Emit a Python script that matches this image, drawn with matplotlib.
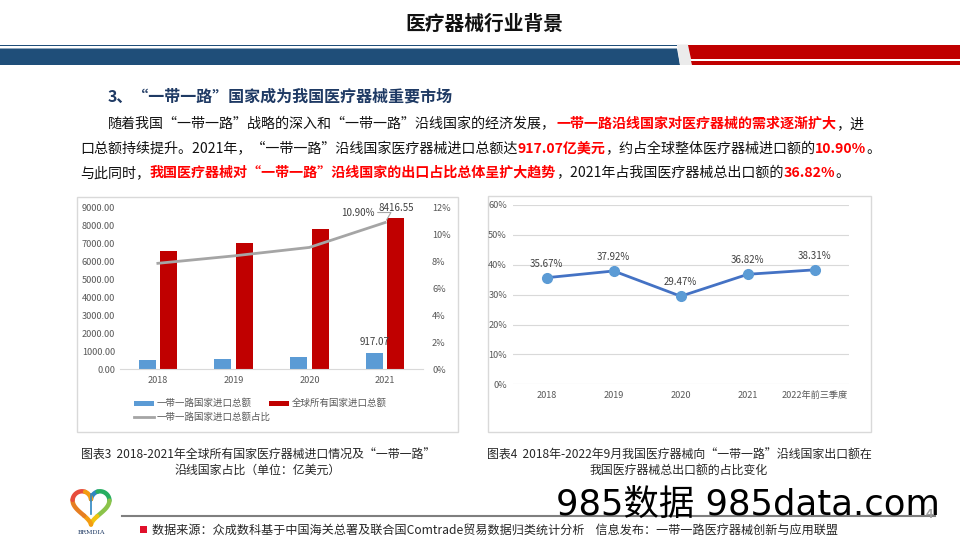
import numpy as np
import matplotlib
matplotlib.use("Agg")
import matplotlib.pyplot as plt
from matplotlib.patches import Rectangle, Polygon
from matplotlib.ticker import FuncFormatter

plt.rcParams["font.family"] = ["Noto Sans CJK SC", "DejaVu Sans"]

# chart 3 data
years = ["2018", "2019", "2020", "2021"]
brics_import = [518, 575, 690, 917.07]
world_import = [6604, 7060, 7830, 8416.55]
brics_share = [0.0787, 0.0842, 0.0905, 0.109]

# chart 4 data
periods = ["2018", "2019", "2020", "2021", "2022年前三季度"]
export_share = [0.3567, 0.3792, 0.2947, 0.3682, 0.3831]

W, H = 960, 540
BLUE = "#1F4E79"
RED = "#C00000"
TICK = "#595959"

fig = plt.figure(figsize=(9.6, 5.4), dpi=100)
fig.patch.set_facecolor("white")

# overlay in pixel coordinates for the slide decoration
ax0 = fig.add_axes([0, 0, 1, 1])
ax0.set_xlim(0, W)
ax0.set_ylim(H, 0)
ax0.axis("off")
renderer = fig.canvas.get_renderer()


def px_rect(x0, y0, x1, y1):
    return [x0 / W, 1 - y1 / H, (x1 - x0) / W, (y1 - y0) / H]


def runs(x, y, parts, size):
    for s, color, weight in parts:
        t = ax0.text(x, y, s, color=color, fontsize=size, fontweight=weight,
                     va="center", ha="left")
        x += t.get_window_extent(renderer).width


# header
ax0.text(484, 24, "医疗器械行业背景", fontsize=14.2, fontweight="bold",
         ha="center", va="center", color="#111111")
ax0.add_patch(Rectangle((0, 44.5), 677, 1.8, color=BLUE, lw=0))
ax0.add_patch(Polygon([(0, 48.5), (677, 48.5), (680, 65), (0, 65)], color=BLUE, lw=0))
ax0.add_patch(Polygon([(677, 44.5), (688, 44.5), (692, 65), (680, 65)], color="#EBEBEB", lw=0))
ax0.add_patch(Polygon([(688, 44.5), (W, 44.5), (W, 59.3), (690.6, 59.3)], color=RED, lw=0))
ax0.add_patch(Polygon([(691, 61), (W, 61), (W, 64.5), (691.6, 64.5)], color=RED, lw=0))

# section heading and paragraph
ax0.text(108, 97, "3、“一带一路”国家成为我国医疗器械重要市场", fontsize=11.5,
         fontweight="bold", color="#1F3A64", va="center")
fs = 10.1
K, R = "#111111", "#FF0000"
runs(108, 124, [("随着我国“一带一路”战略的深入和“一带一路”沿线国家的经济发展，", K, "normal"),
                ("一带一路沿线国家对医疗器械的需求逐渐扩大", R, "bold"),
                ("，进", K, "normal")], fs)
runs(80, 149, [("口总额持续提升。2021年，“一带一路”沿线国家医疗器械进口总额达", K, "normal"),
               ("917.07亿美元", R, "bold"),
               ("，约占全球整体医疗器械进口额的", K, "normal"),
               ("10.90%", R, "bold"), ("。", K, "normal")], fs)
runs(80, 173, [("与此同时，", K, "normal"),
               ("我国医疗器械对“一带一路”沿线国家的出口占比总体呈扩大趋势", R, "bold"),
               ("，2021年占我国医疗器械总出口额的", K, "normal"),
               ("36.82%", R, "bold"), ("。", K, "normal")], fs)

# chart boxes
ax0.add_patch(Rectangle((77, 197), 381, 235, fill=False, ec="#D9D9D9", lw=1))
ax0.add_patch(Rectangle((488, 196), 383, 236, fill=False, ec="#D9D9D9", lw=1))

# ---- left chart ----
ax1 = fig.add_axes(px_rect(120, 207.7, 423, 369.3))
ax1.patch.set_alpha(0)
x = np.arange(len(years))
ax1.bar(x - 0.143, brics_import, width=0.225, color="#5B9BD5", zorder=2)
ax1.bar(x + 0.143, world_import, width=0.225, color=RED, zorder=2)
ax1.set_xlim(-0.5, 3.5)
ax1.set_ylim(0, 9000)
ax1.set_yticks(np.arange(0, 9001, 1000))
ax1.yaxis.set_major_formatter(FuncFormatter(lambda v, p: f"{v:.2f}"))
ax1.set_xticks(x)
ax1.set_xticklabels(years)
for s in ["top", "left", "right"]:
    ax1.spines[s].set_visible(False)
ax1.spines["bottom"].set_color("#D9D9D9")
ax1.tick_params(axis="y", length=0, pad=3.6, labelsize=6.6, labelcolor=TICK)
ax1.tick_params(axis="x", length=0, pad=5, labelsize=6.6, labelcolor=TICK)
ax1.annotate(f"{world_import[3]:.2f}", xy=(3.143, world_import[3]), xytext=(0, 10),
             textcoords="offset pixels", ha="center", va="center", fontsize=7, color="#404040")
ax1.annotate(f"{brics_import[3]:.2f}", xy=(2.857, brics_import[3]), xytext=(0, 11),
             textcoords="offset pixels", ha="center", va="center", fontsize=7, color="#404040")

ax2 = ax1.twinx()
ax2.patch.set_alpha(0)
ax2.plot(x, brics_share, color="#A5A5A5", lw=2, zorder=3)
ax2.set_ylim(0, 0.12)
ax2.set_yticks(np.arange(0, 0.121, 0.02))
ax2.yaxis.set_major_formatter(FuncFormatter(lambda v, p: f"{v * 100:.0f}%"))
for s in ["top", "left", "right", "bottom"]:
    ax2.spines[s].set_visible(False)
ax2.tick_params(axis="y", length=0, pad=6.5, labelsize=6.6, labelcolor=TICK)
ax2.annotate(f"{brics_share[3] * 100:.2f}%", xy=(3, brics_share[3]), xytext=(-27, 10),
             textcoords="offset pixels", ha="center", va="center", fontsize=7, color="#404040",
             arrowprops=dict(arrowstyle="-", color="#A5A5A5", lw=0.8,
                             connectionstyle="angle,angleA=0,angleB=60", shrinkA=14, shrinkB=2))

# legend drawn in slide pixels
ax0.add_patch(Rectangle((134, 400.5), 20, 5, color="#5B9BD5", lw=0))
ax0.text(157, 403, "一带一路国家进口总额", fontsize=6.8, color=TICK, va="center")
ax0.add_patch(Rectangle((269, 400.5), 20, 5, color=RED, lw=0))
ax0.text(292, 403, "全球所有国家进口总额", fontsize=6.8, color=TICK, va="center")
ax0.plot([134, 154], [417, 417], color="#A5A5A5", lw=2)
ax0.text(157, 417, "一带一路国家进口总额占比", fontsize=6.8, color=TICK, va="center")

# ---- right chart ----
ax3 = fig.add_axes(px_rect(513, 205, 848.5, 384.3))
ax3.patch.set_alpha(0)
xr = np.arange(len(periods))
ax3.plot(xr, export_share, color="#4472C4", lw=2, marker="o", ms=7,
         mfc="#5B9BD5", mec="#5B9BD5", zorder=3)
ax3.set_xlim(-0.5, 4.5)
ax3.set_ylim(0, 0.6)
ax3.set_yticks(np.arange(0, 0.61, 0.1))
ax3.yaxis.set_major_formatter(FuncFormatter(lambda v, p: f"{v * 100:.0f}%"))
ax3.set_xticks(xr)
ax3.set_xticklabels(periods)
ax3.grid(axis="y", color="#D9D9D9", lw=0.8)
for s in ["top", "left", "right", "bottom"]:
    ax3.spines[s].set_visible(False)
ax3.tick_params(axis="y", length=0, pad=4.3, labelsize=6.6, labelcolor=TICK)
ax3.tick_params(axis="x", length=0, pad=4.8, labelsize=6.6, labelcolor=TICK)
for xi, v in zip(xr, export_share):
    ax3.annotate(f"{v * 100:.2f}%", xy=(xi, v), xytext=(0, 14), textcoords="offset pixels",
                 ha="center", va="center", fontsize=7, color="#404040")

# captions
cap = dict(fontsize=8.6, color="#262626", ha="center", va="center")
ax0.text(258, 455, "图表3  2018-2021年全球所有国家医疗器械进口情况及“一带一路”", **cap)
ax0.text(258, 470, "沿线国家占比（单位：亿美元）", **cap)
ax0.text(679, 455, "图表4  2018年-2022年9月我国医疗器械向“一带一路”沿线国家出口额在", **cap)
ax0.text(679, 470, "我国医疗器械总出口额的占比变化", **cap)

# footer
ax0.plot([122, 935], [516, 516], color="#7F7F7F", lw=1.5)
ax0.text(929, 514, "4", fontsize=9, color="#A0A0A0", fontweight="bold", ha="center", va="center")
ax0.add_patch(Rectangle((140, 526), 6.5, 6.5, color="#E0102B", lw=0))
ax0.text(152, 530, "数据来源：众成数科基于中国海关总署及联合国Comtrade贸易数据归类统计分析    "
         "信息发布：一带一路医疗器械创新与应用联盟", fontsize=8.7, color="#262626", va="center")

# logo
t = np.linspace(0, 2 * np.pi, 200)
hx = 16 * np.sin(t) ** 3
hy = 13 * np.cos(t) - 5 * np.cos(2 * t) - 2 * np.cos(3 * t) - np.cos(4 * t)
hx = 91 + hx * 1.15
hy = 505 - hy * 1.15
cols = ["#2E86C1", "#27AE60", "#8BC34A", "#F1C40F", "#F39C12", "#E67E22", "#E74C3C", "#F39C12"]
seg = np.array_split(np.arange(len(t)), len(cols))
for c, idx in zip(cols, seg):
    i = np.append(idx, min(idx[-1] + 1, len(t) - 1))
    ax0.plot(hx[i], hy[i], color=c, lw=3.2, solid_capstyle="round")
ax0.plot([91, 91], [494, 514], color="#2E86C1", lw=1.2)
ax0.text(91, 532, "BRMDIA", fontsize=4.5, family="DejaVu Serif", color="#1F3A64",
         ha="center", va="center")

# watermark
ax0.text(556, 505, "985数据 985data.com", fontsize=25.5, color="black", va="center",
         ha="left", zorder=10, family=["DejaVu Sans", "Noto Sans CJK SC"])

fig.savefig("out.png", dpi=100)
